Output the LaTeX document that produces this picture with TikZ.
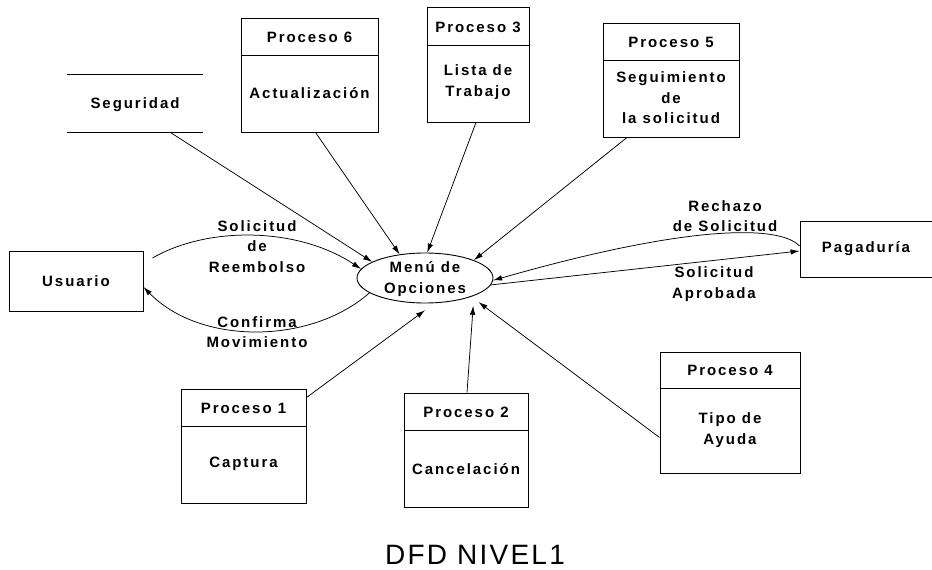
\documentclass[tikz,border=0pt]{standalone}
\usepackage{fontspec}
\setmainfont{Liberation Sans}[LetterSpace=13]
\newfontfamily\titlefont{Liberation Sans}[LetterSpace=8]
\usetikzlibrary{arrows.meta,shapes.geometric}
\begin{document}
\begin{tikzpicture}[x=1pt,y=-1pt,
  box/.style={draw, line width=0.9pt, inner sep=0pt},
  lbl/.style={font=\bfseries\fontsize{15}{20.5}\selectfont, align=center, inner sep=0pt},
  flow/.style={line width=0.75pt, -{Latex[length=9pt,width=5.5pt]}},
  gap/.style={shorten >=#1}]
\useasboundingbox (0,0) rectangle (932,570);

% data store
\node[inner sep=0, minimum width=136pt, minimum height=57pt] (seg) at (135,103.5) {};
\draw[line width=0.9pt] (seg.north west) -- (seg.north east);
\draw[line width=0.9pt] (seg.south west) -- (seg.south east);
\node[lbl] (segt) at (135,105) {Seguridad};

% top processes
\node[box, minimum width=137pt, minimum height=114pt] (p6) at (309.5,75) {};
\draw[line width=0.9pt] ([yshift=-38pt]p6.north west) -- ([yshift=-38pt]p6.north east);
\node[lbl] (p6h) at (309.5,37) {Proceso 6};
\node[lbl] (p6b) at (309.5,93) {Actualización};

\node[box, minimum width=102pt, minimum height=115pt] (p3) at (478,64.5) {};
\draw[line width=0.9pt] ([yshift=-39pt]p3.north west) -- ([yshift=-39pt]p3.north east);
\node[lbl] (p3h) at (478,27) {Proceso 3};
\node[lbl] (p3b) at (478,82) {Lista de\\Trabajo};

\node[box, minimum width=136pt, minimum height=114pt] (p5) at (671,80) {};
\draw[line width=0.9pt] ([yshift=-38pt]p5.north west) -- ([yshift=-38pt]p5.north east);
\node[lbl] (p5h) at (671,42) {Proceso 5};
\node[lbl] (p5b) at (671,98) {Seguimiento\\de\\la solicitud};

% external entities
\node[box, minimum width=134pt, minimum height=60pt] (usr) at (76,281) {};
\node[lbl] (usrt) at (76,281) {Usuario};
\node[box, minimum width=132pt, minimum height=56pt] (pag) at (866,249) {};
\node[lbl] (pagt) at (866,249) {Pagaduría};

% central process
\node[draw, ellipse, line width=0.9pt, minimum width=136pt, minimum height=50pt, inner sep=0] (menu) at (425,278) {};
\node[lbl] (menut) at (425,279) {Menú de\\Opciones};

% bottom processes
\node[box, minimum width=125pt, minimum height=114pt] (p1) at (243.5,446) {};
\draw[line width=0.9pt] ([yshift=-38pt]p1.north west) -- ([yshift=-38pt]p1.north east);
\node[lbl] (p1h) at (243.5,408) {Proceso 1};
\node[lbl] (p1b) at (243.5,464) {Captura};

\node[box, minimum width=124pt, minimum height=114pt] (p2) at (466,450) {};
\draw[line width=0.9pt] ([yshift=-38pt]p2.north west) -- ([yshift=-38pt]p2.north east);
\node[lbl] (p2h) at (466,412) {Proceso 2};
\node[lbl] (p2b) at (466,469) {Cancelación};

\node[box, minimum width=140pt, minimum height=121pt] (p4) at (730,412.5) {};
\draw[line width=0.9pt] ([yshift=-37pt]p4.north west) -- ([yshift=-37pt]p4.north east);
\node[lbl] (p4h) at (730,370) {Proceso 4};
\node[lbl] (p4b) at (730,430) {Tipo de\\Ayuda};

% flows from the upper boxes
\draw[flow] ([xshift=35pt]seg.south) -- (menu.163);
\draw[flow] ([xshift=6pt]p6.south) -- (menu.137);
\draw[flow] ([xshift=-2pt]p3.south) -- (menu.85);
\draw[flow] ([xshift=-44pt]p5.south) -- (menu.20);

% flows from the lower boxes
\draw[flow, gap=12pt] ([yshift=-9pt]p1.north east) -- (menu.-69);
\draw[flow, gap=10pt] ([xshift=1pt]p2.north) -- (menu.-20);
\draw[flow, gap=9pt] ([yshift=-25pt]p4.west) -- (menu.-22);

% Usuario exchanges
\draw[flow] ([xshift=9pt,yshift=23pt]usr.east) .. controls (210,225) and (300,228) .. (menu.172);
\draw[flow] (menu.195) .. controls (310,345) and (200,345) .. ([yshift=-6pt]usr.east);
\node[lbl] (l1) at (257,246.5) {Solicitud\\de\\Reembolso};
\node[lbl] (l2) at (257,332) {Confirma\\Movimiento};

% Pagaduria exchanges
\draw[flow] ([yshift=3pt]pag.west) .. controls (780,225) and (690,224) .. (menu.-2);
\draw[flow] (menu.-6) -- ([yshift=-2pt]pag.west);
\node[lbl] (l3) at (725,216) {Rechazo\\de Solicitud};
\node[lbl] (l4) at (714,284) {Solicitud\\Aprobada};

% title
\node[inner sep=0, font=\titlefont\fontsize{28}{32}\selectfont] (title) at (475,555) {DFD NIVEL1};
\end{tikzpicture}
\end{document}
